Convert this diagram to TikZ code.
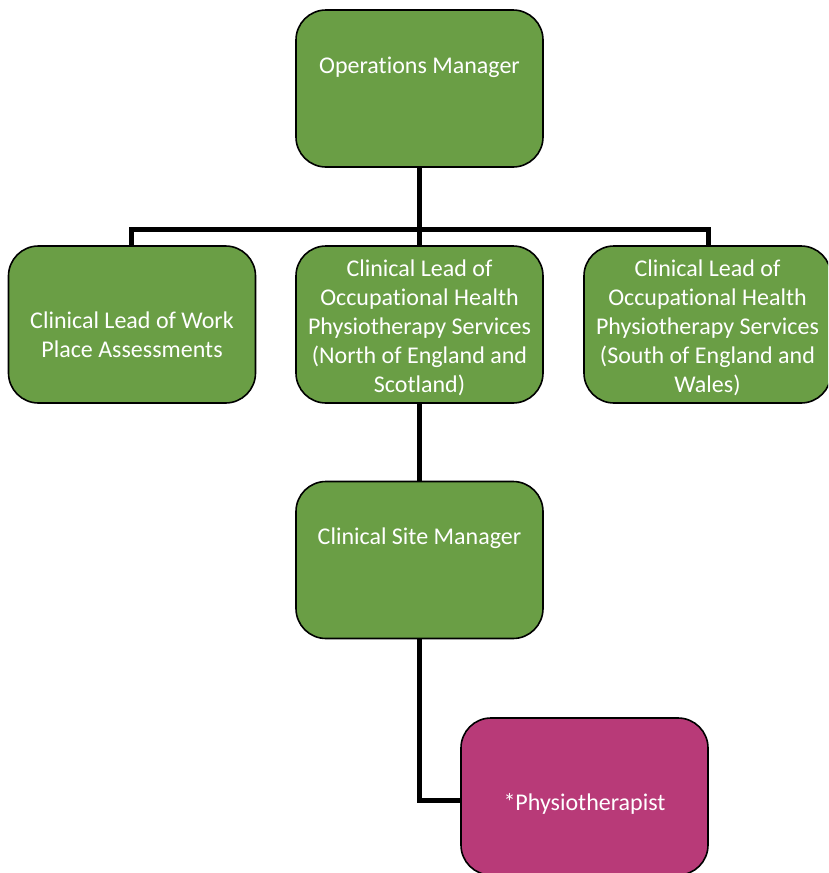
\documentclass[tikz,border=0pt]{standalone}
\usepackage{fontspec}
\setmainfont[Ligatures={NoCommon,NoRequired,NoContextual}]{Carlito}
\usetikzlibrary{backgrounds}
\definecolor{boxgreen}{HTML}{6A9E45}
\definecolor{boxpink}{HTML}{B83A78}
\begin{document}
\begin{tikzpicture}[x=1pt,y=-1pt,
  box/.style={draw=black, line width=1.6pt, rounded corners=30pt, fill=boxgreen,
    minimum width=247pt, minimum height=157pt, inner sep=0pt},
  pinkbox/.style={box, fill=boxpink},
  lbl/.style={text=white, align=center, font=\fontsize{24}{29}\selectfont, inner sep=0pt},
  conn/.style={line width=5pt, draw=black}]
\useasboundingbox (0,0) rectangle (828,873);
\begin{scope}
\clip (0,0) rectangle (828,873);
% boxes
\node[box] (om) at (419.5,88.5) {};
\node[box] (wa) at (132,324.5) {};
\node[box] (nth) at (419.5,324.5) {};
\node[box] (sth) at (707.5,324.5) {};
\node[box] (csm) at (419.5,560) {};
\node[pinkbox] (phy) at (584.5,796.5) {};
% connectors
\begin{scope}[on background layer]
\coordinate (bar) at (419.5,229);
\draw[conn] (om.south) -- (nth.north);
\draw[conn] (wa.north -| 131,0) |- (bar) -| (sth.north -| 708,0);
\draw[conn] (nth.south) -- (csm.north);
\draw[conn] (csm.south) |- (phy.west |- 0,800);
\end{scope}
\end{scope}
% labels
\node[lbl] (om-t) at (419.5,67) {Operations Manager};
\node[lbl] (wa-t) at (132,335) {Clinical Lead of Work\\Place Assessments};
\node[lbl] (nth-t) at (419.5,328) {Clinical Lead of\\Occupational Health\\Physiotherapy Services\\(North of England and\\Scotland)};
\node[lbl] (sth-t) at (707.5,328) {Clinical Lead of\\Occupational Health\\Physiotherapy Services\\(South of England and\\Wales)};
\node[lbl] (csm-t) at (419.5,538) {Clinical Site Manager};
\node[lbl] (phy-t) at (584.5,804) {*Physiotherapist};
\end{tikzpicture}
\end{document}
